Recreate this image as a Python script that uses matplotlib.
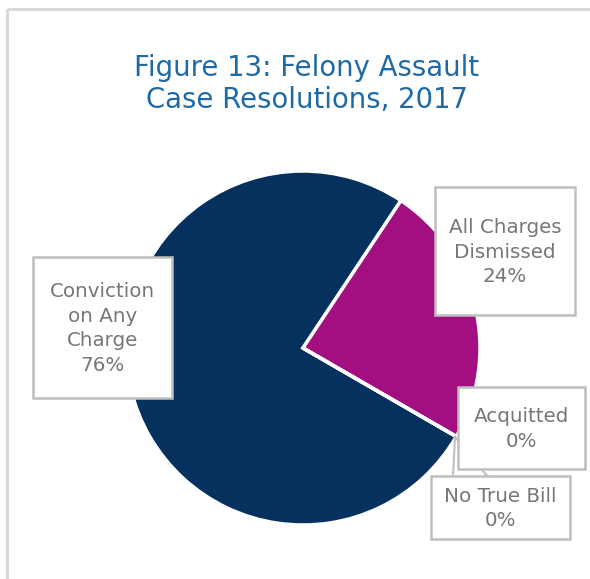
import matplotlib
matplotlib.use("Agg")
import matplotlib.pyplot as plt
from matplotlib.patches import Rectangle

title = "Figure 13: Felony Assault\nCase Resolutions, 2017"
categories = ["Conviction\non Any\nCharge", "All Charges\nDismissed", "Acquitted", "No True Bill"]
shares = [76, 24, 0, 0]
colors = ["#06305E", "#A30F80", "#1B9E8A", "#5B9BD5"]

W, H = 590, 579
fig = plt.figure(figsize=(W / 100, H / 100), dpi=100)

# pie, center (303, 348) px, radius 177 px
r = 177
cx, cy = 303, 348
ax = fig.add_axes([(cx - r) / W, (H - cy - r) / H, 2 * r / W, 2 * r / H])
ax.pie(shares, colors=colors, startangle=-30, counterclock=False, radius=1,
       wedgeprops=dict(edgecolor="white", linewidth=2.5))
ax.set_xlim(-1, 1)
ax.set_ylim(-1, 1)
ax.set_aspect("equal")

# overlay in pixel coordinates for title, frame and labels
ov = fig.add_axes([0, 0, 1, 1], facecolor="none")
ov.set_xlim(0, W)
ov.set_ylim(H, 0)
ov.axis("off")

# chart frame (left and top only)
ov.plot([7, 7], [H, 9], color="#D9D9D9", lw=2.2, solid_capstyle="butt")
ov.plot([7, W], [9, 9], color="#D9D9D9", lw=2.2, solid_capstyle="butt")

ov.text(307, 84, title, ha="center", va="center", fontsize=19.8,
        color="#1F6AA5", linespacing=1.2)

# callout pointer for No True Bill
ov.plot([455, 453], [437, 477], color="#BFBFBF", lw=1.5)
ov.plot([455, 488], [437, 477], color="#BFBFBF", lw=1.5)

boxes = [(33, 257, 172, 398), (435, 187, 575, 315), (458, 387, 585, 469), (431, 476, 570, 539)]
for (x0, y0, x1, y1), name, val in zip(boxes, categories, shares):
    ov.add_patch(Rectangle((x0, y0), x1 - x0, y1 - y0, facecolor="white",
                           edgecolor="#BFBFBF", lw=1.8, zorder=3))
    ov.text((x0 + x1) / 2, (y0 + y1) / 2 + 1, f"{name}\n{val}%", ha="center",
            va="center", fontsize=14.3, color="#767676", linespacing=1.36, zorder=4)

fig.savefig("out.png", dpi=100)
